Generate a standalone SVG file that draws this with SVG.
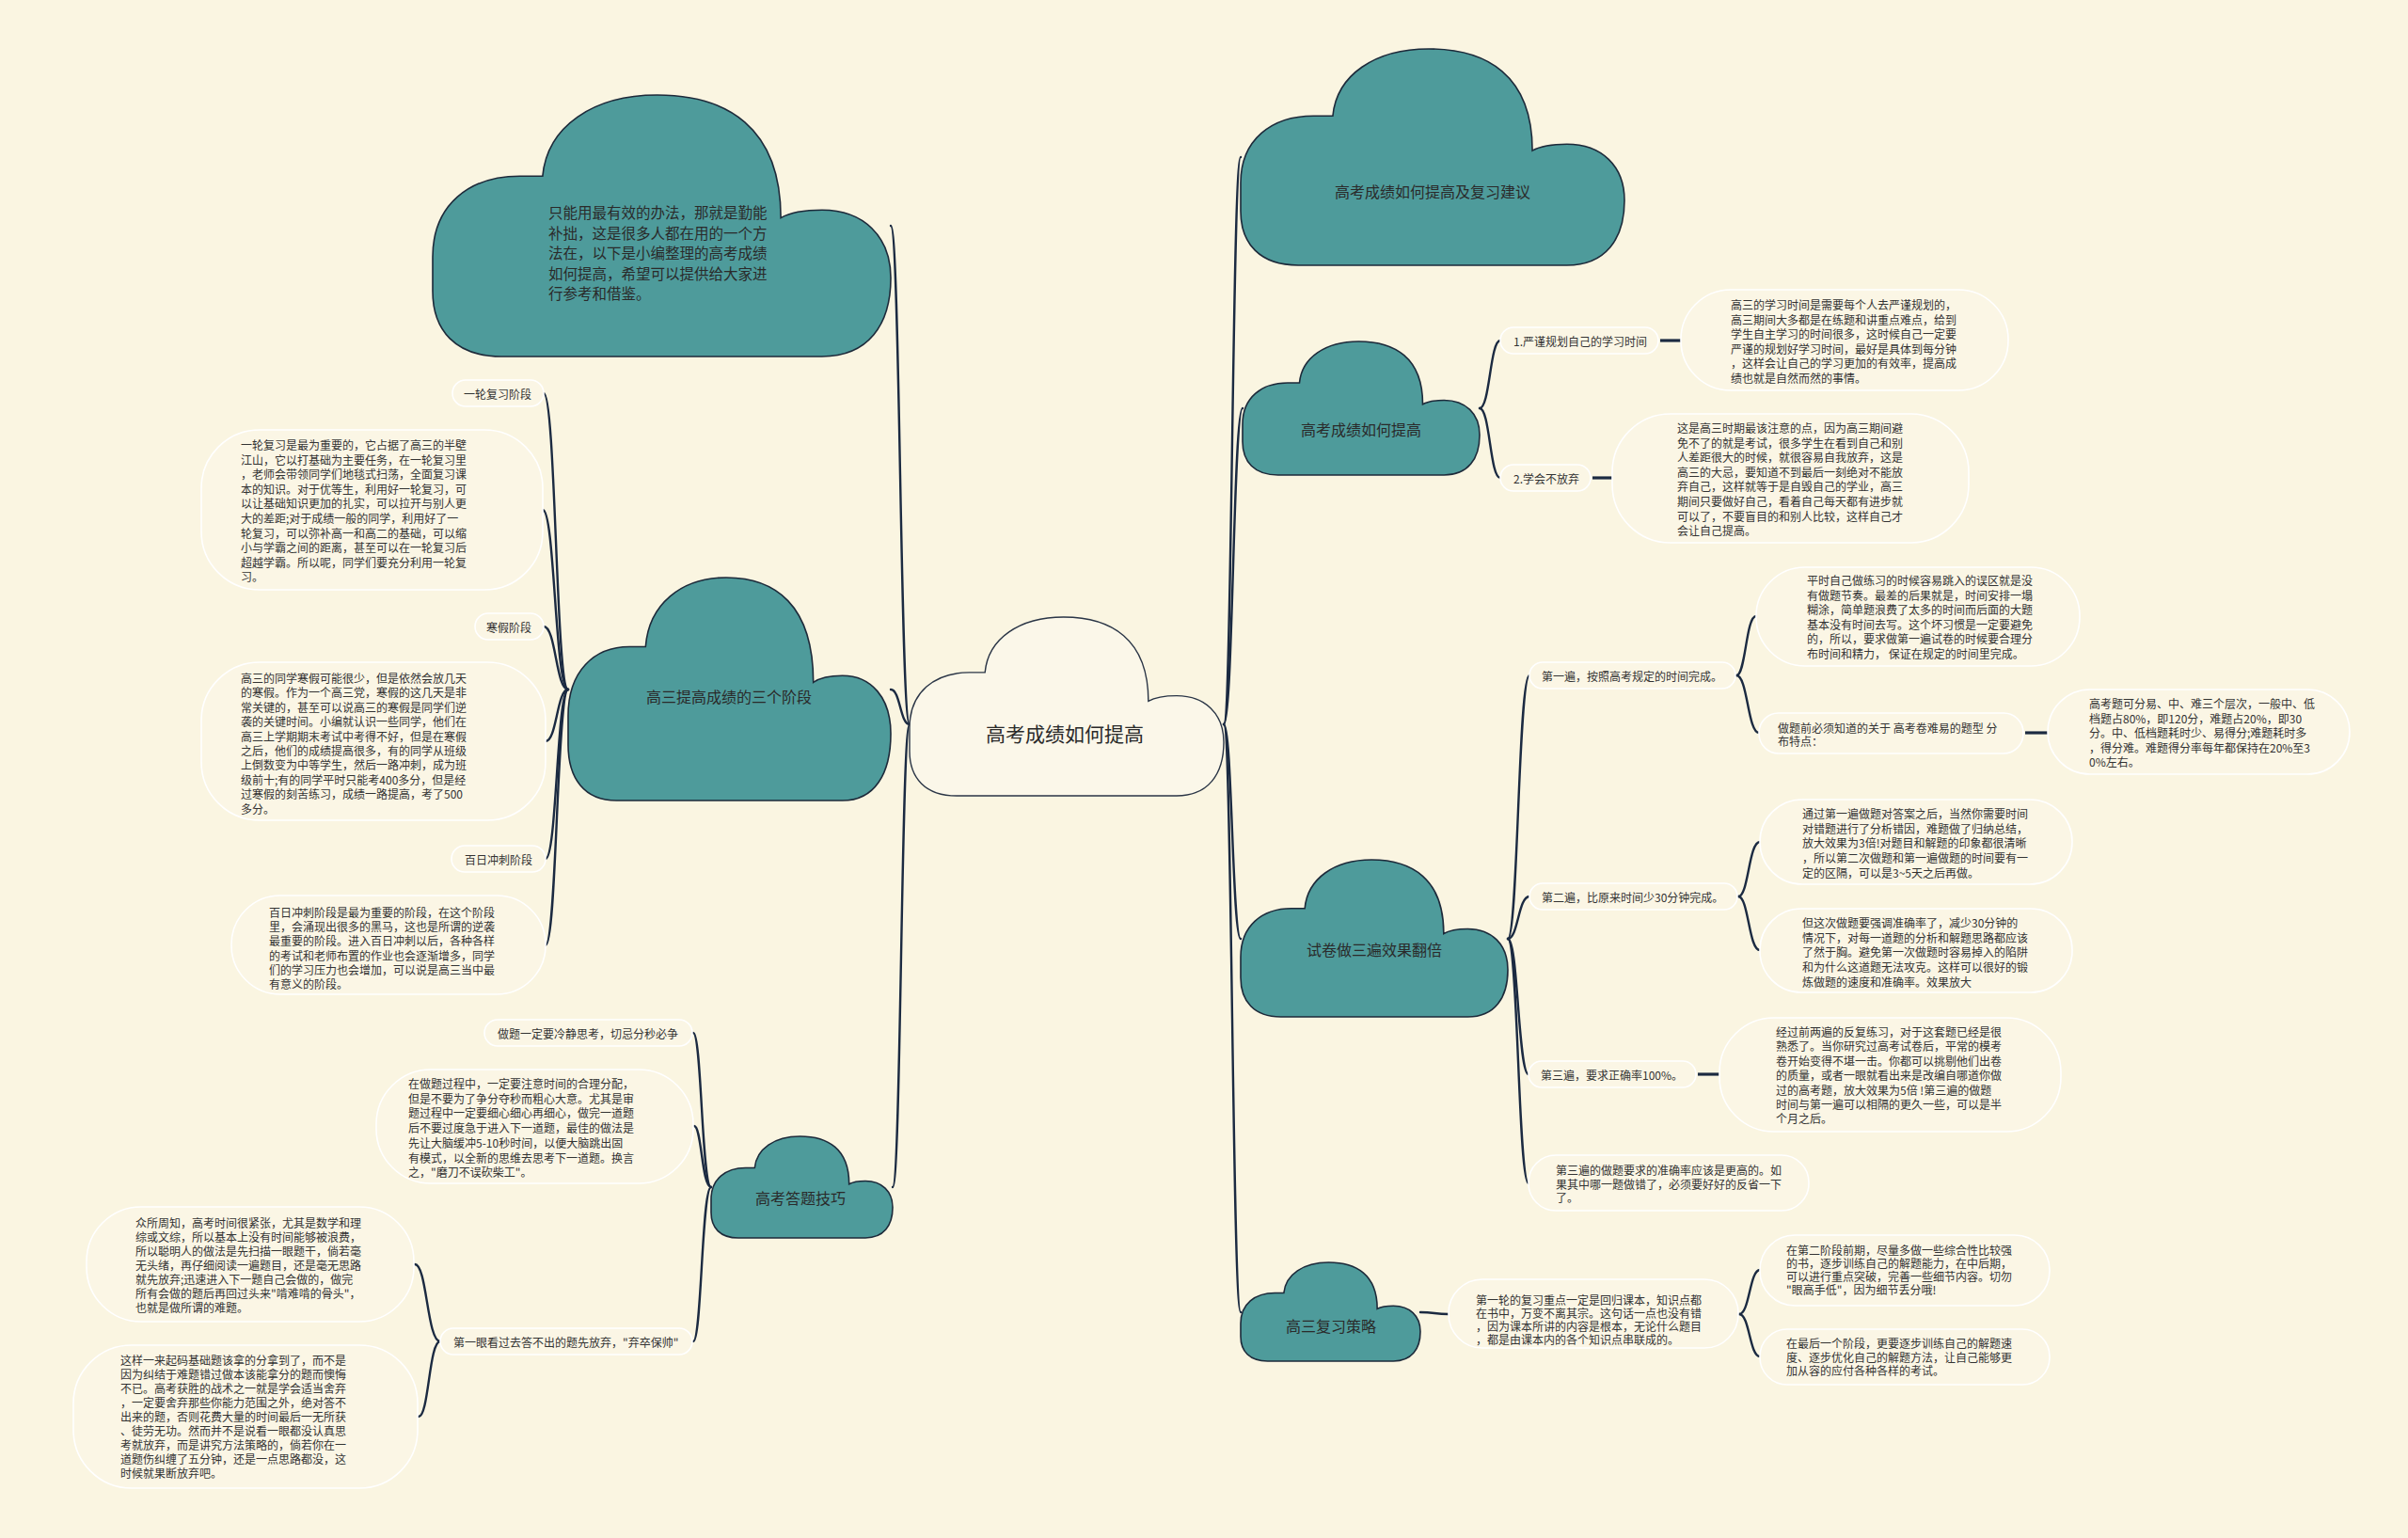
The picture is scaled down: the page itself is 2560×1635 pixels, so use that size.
<svg xmlns="http://www.w3.org/2000/svg" xmlns:xlink="http://www.w3.org/1999/xlink" width="2560" height="1635" viewBox="0 0 2560 1635">
<style>
.bg{fill:#faf5e1}
.cloud{fill:#4e9b9b;stroke:#1d2a3a;stroke-width:1.6}
.ccloud{fill:#fbf7e9;stroke:#2a3546;stroke-width:1.4}
.pill{fill:#fbf6e5;stroke:#ffffff;stroke-width:1.6}
.link{fill:none;stroke:#1b2a41;stroke-width:2.4;stroke-linecap:round}
.dash{fill:none;stroke:#1b2a41;stroke-width:3.2}
text{font-family:"Noto Sans CJK SC","Noto Sans CJK JP",sans-serif;fill:#333333;dominant-baseline:central}
.t12{font-size:12px}
.t16{font-size:16px;text-anchor:middle;fill:#2a2a2a}
.t15{font-size:15.5px;fill:#2a2a2a}
.t21{font-size:21px;text-anchor:middle;fill:#2a2a2a}
</style>
<defs>
<path id="cloudShape" vector-effect="non-scaling-stroke" d="M15,100 C5,100 0,90 0,75 L0,62 C0,42 8,31 19,31 L24,31 C25,12 35,0 49,0 C64,0 76,12 76,47 C78,45 81,44 85,44 C94,44 100,54 100,70 C100,88 95,100 85,100 Z"/>
</defs>
<rect class="bg" x="0" y="0" width="2560" height="1635"/>

<g id="connectors">
<path class="link" d="M967,770 C957,770 957,240 947,240"/>
<path class="link" d="M967,770 C957,770 957,733 947,733"/>
<path class="link" d="M967,770 C958,770 958,1262 949,1262"/>
<path class="link" d="M1301,770 C1310,770 1310,167 1319,167"/>
<path class="link" d="M1301,770 C1311,770 1311,434 1321,434"/>
<path class="link" d="M1301,770 C1310,770 1310,998 1319,998"/>
<path class="link" d="M1301,770 C1310,770 1310,1395 1319,1395"/>
<path class="link" d="M604,733 C591,733 591,418 578,418"/>
<path class="link" d="M604,733 C590,733 590,542 577,542"/>
<path class="link" d="M604,733 C591,733 591,666 578,666"/>
<path class="link" d="M604,733 C592,733 592,788 580,788"/>
<path class="link" d="M604,733 C592,733 592,913 580,913"/>
<path class="link" d="M604,733 C592,733 592,1005 580,1005"/>
<path class="link" d="M1573,434 C1584,434 1584,362 1595,362"/>
<path class="link" d="M1573,434 C1584,434 1584,508 1595,508"/>
<path class="dash" d="M1765,362 L1787,362"/>
<path class="dash" d="M1693,508 L1714,508"/>
<path class="link" d="M1603,998 C1614,998 1614,718 1626,718"/>
<path class="link" d="M1603,998 C1614,998 1614,953 1626,953"/>
<path class="link" d="M1603,998 C1614,998 1614,1142 1625,1142"/>
<path class="link" d="M1603,998 C1614,998 1614,1258 1625,1258"/>
<path class="link" d="M1846,718 C1856,718 1856,655 1867,655"/>
<path class="link" d="M1846,718 C1858,718 1858,779 1870,779"/>
<path class="dash" d="M2153,779 L2177,779"/>
<path class="link" d="M1848,953 C1859,953 1859,895 1871,895"/>
<path class="link" d="M1848,953 C1859,953 1859,1010 1871,1010"/>
<path class="dash" d="M1805,1142 L1828,1142"/>
<path class="link" d="M1510,1395 C1525,1395 1525,1397 1540,1397"/>
<path class="link" d="M1849,1397 C1860,1397 1860,1350 1871,1350"/>
<path class="link" d="M1849,1397 C1860,1397 1860,1442 1871,1442"/>
<path class="link" d="M756,1262 C746,1262 746,1098 737,1098"/>
<path class="link" d="M756,1262 C746,1262 746,1197 738,1197"/>
<path class="link" d="M756,1262 C746,1262 746,1426 737,1426"/>
<path class="link" d="M468,1426 C454,1426 454,1344 441,1344"/>
<path class="link" d="M468,1426 C456,1426 456,1506 445,1506"/>
</g>

<g id="node-center">
<use xlink:href="#cloudShape" href="#cloudShape" class="ccloud" transform="translate(967,656) scale(3.34,1.90)"/>
<text class="t21" x="1132" y="779">高考成绩如何提高</text>
</g>

<g id="node-intro">
<use xlink:href="#cloudShape" href="#cloudShape" class="cloud" transform="translate(460,101) scale(4.87,2.78)"/>
<text class="t15"><tspan x="583" y="225">只能用最有效的办法，那就是勤能</tspan><tspan x="583" y="246.5">补拙，这是很多人都在用的一个方</tspan><tspan x="583" y="268">法在，以下是小编整理的高考成绩</tspan><tspan x="583" y="289.5">如何提高，希望可以提供给大家进</tspan><tspan x="583" y="311">行参考和借鉴。</tspan></text>
</g>

<g id="node-advice">
<use xlink:href="#cloudShape" href="#cloudShape" class="cloud" transform="translate(1319,52) scale(4.08,2.30)"/>
<text class="t16" x="1523" y="203">高考成绩如何提高及复习建议</text>
</g>

<g id="node-improve">
<use xlink:href="#cloudShape" href="#cloudShape" class="cloud" transform="translate(1321,363) scale(2.52,1.42)"/>
<text class="t16" x="1447" y="456">高考成绩如何提高</text>
</g>

<g id="node-plan-label">
<rect class="pill" x="1595" y="348" width="168" height="28" rx="14"/>
<text class="t12" x="1609" y="362">1.严谨规划自己的学习时间</text>
</g>
<g id="node-plan-text">
<rect class="pill" x="1787" y="308" width="348" height="107" rx="53"/>
<text class="t12"><tspan x="1840" y="323">高三的学习时间是需要每个人去严谨规划的，</tspan><tspan x="1840" y="338.5">高三期间大多都是在练题和讲重点难点，给到</tspan><tspan x="1840" y="354">学生自主学习的时间很多，这时候自己一定要</tspan><tspan x="1840" y="369.5">严谨的规划好学习时间，最好是具体到每分钟</tspan><tspan x="1840" y="385">，这样会让自己的学习更加的有效率，提高成</tspan><tspan x="1840" y="400.5">绩也就是自然而然的事情。</tspan></text>
</g>
<g id="node-giveup-label">
<rect class="pill" x="1595" y="494" width="96" height="28" rx="14"/>
<text class="t12" x="1609" y="508">2.学会不放弃</text>
</g>
<g id="node-giveup-text">
<rect class="pill" x="1714" y="440" width="379" height="137" rx="62"/>
<text class="t12"><tspan x="1783" y="454">这是高三时期最该注意的点，因为高三期间避</tspan><tspan x="1783" y="469.6">免不了的就是考试，很多学生在看到自己和别</tspan><tspan x="1783" y="485.2">人差距很大的时候，就很容易自我放弃，这是</tspan><tspan x="1783" y="500.8">高三的大忌，要知道不到最后一刻绝对不能放</tspan><tspan x="1783" y="516.4">弃自己，这样就等于是自毁自己的学业，高三</tspan><tspan x="1783" y="532">期间只要做好自己，看着自己每天都有进步就</tspan><tspan x="1783" y="547.6">可以了，不要盲目的和别人比较，这样自己才</tspan><tspan x="1783" y="563.2">会让自己提高。</tspan></text>
</g>

<g id="node-three">
<use xlink:href="#cloudShape" href="#cloudShape" class="cloud" transform="translate(604,614) scale(3.43,2.37)"/>
<text class="t16" x="775" y="740">高三提高成绩的三个阶段</text>
</g>

<g id="node-round1-label">
<rect class="pill" x="481" y="404" width="97" height="28" rx="14"/>
<text class="t12" x="493" y="418">一轮复习阶段</text>
</g>
<g id="node-round1-text">
<rect class="pill" x="214" y="457" width="363" height="170" rx="62"/>
<text class="t12"><tspan x="256" y="472">一轮复习是最为重要的，它占据了高三的半壁</tspan><tspan x="256" y="487.6">江山，它以打基础为主要任务，在一轮复习里</tspan><tspan x="256" y="503.2">，老师会带领同学们地毯式扫荡，全面复习课</tspan><tspan x="256" y="518.8">本的知识。对于优等生，利用好一轮复习，可</tspan><tspan x="256" y="534.4">以让基础知识更加的扎实，可以拉开与别人更</tspan><tspan x="256" y="550">大的差距;对于成绩一般的同学，利用好了一</tspan><tspan x="256" y="565.6">轮复习，可以弥补高一和高二的基础，可以缩</tspan><tspan x="256" y="581.2">小与学霸之间的距离，甚至可以在一轮复习后</tspan><tspan x="256" y="596.8">超越学霸。所以呢，同学们要充分利用一轮复</tspan><tspan x="256" y="612.4">习。</tspan></text>
</g>
<g id="node-winter-label">
<rect class="pill" x="505" y="652" width="73" height="28" rx="14"/>
<text class="t12" x="517" y="666">寒假阶段</text>
</g>
<g id="node-winter-text">
<rect class="pill" x="214" y="704" width="366" height="168" rx="62"/>
<text class="t12"><tspan x="256" y="720">高三的同学寒假可能很少，但是依然会放几天</tspan><tspan x="256" y="735.4">的寒假。作为一个高三党，寒假的这几天是非</tspan><tspan x="256" y="750.8">常关键的，甚至可以说高三的寒假是同学们逆</tspan><tspan x="256" y="766.2">袭的关键时间。小编就认识一些同学，他们在</tspan><tspan x="256" y="781.6">高三上学期期末考试中考得不好，但是在寒假</tspan><tspan x="256" y="797">之后，他们的成绩提高很多，有的同学从班级</tspan><tspan x="256" y="812.4">上倒数变为中等学生，然后一路冲刺，成为班</tspan><tspan x="256" y="827.8">级前十;有的同学平时只能考400多分，但是经</tspan><tspan x="256" y="843.2">过寒假的刻苦练习，成绩一路提高，考了500</tspan><tspan x="256" y="858.6">多分。</tspan></text>
</g>
<g id="node-sprint-label">
<rect class="pill" x="480" y="899" width="100" height="28" rx="14"/>
<text class="t12" x="494" y="913">百日冲刺阶段</text>
</g>
<g id="node-sprint-text">
<rect class="pill" x="246" y="952" width="334" height="105" rx="52"/>
<text class="t12"><tspan x="286" y="969">百日冲刺阶段是最为重要的阶段，在这个阶段</tspan><tspan x="286" y="984.2">里，会涌现出很多的黑马，这也是所谓的逆袭</tspan><tspan x="286" y="999.4">最重要的阶段。进入百日冲刺以后，各种各样</tspan><tspan x="286" y="1014.6">的考试和老师布置的作业也会逐渐增多，同学</tspan><tspan x="286" y="1029.8">们的学习压力也会增加，可以说是高三当中最</tspan><tspan x="286" y="1045">有意义的阶段。</tspan></text>
</g>

<g id="node-paper">
<use xlink:href="#cloudShape" href="#cloudShape" class="cloud" transform="translate(1319,914) scale(2.84,1.67)"/>
<text class="t16" x="1461" y="1009">试卷做三遍效果翻倍</text>
</g>
<g id="node-first-label">
<rect class="pill" x="1626" y="704" width="219" height="28" rx="14"/>
<text class="t12" x="1639" y="718">第一遍，按照高考规定的时间完成。</text>
</g>
<g id="node-first-text">
<rect class="pill" x="1867" y="603" width="344" height="105" rx="52"/>
<text class="t12"><tspan x="1921" y="616">平时自己做练习的时候容易跳入的误区就是没</tspan><tspan x="1921" y="631.6">有做题节奏。最差的后果就是，时间安排一塌</tspan><tspan x="1921" y="647.2">糊涂，简单题浪费了太多的时间而后面的大题</tspan><tspan x="1921" y="662.8">基本没有时间去写。这个坏习惯是一定要避免</tspan><tspan x="1921" y="678.4">的，所以，要求做第一遍试卷的时候要合理分</tspan><tspan x="1921" y="694">布时间和精力， 保证在规定的时间里完成。</tspan></text>
</g>
<g id="node-know-label">
<rect class="pill" x="1870" y="758" width="281" height="43" rx="21"/>
<text class="t12"><tspan x="1890" y="772.5">做题前必须知道的关于 高考卷难易的题型 分</tspan><tspan x="1890" y="787">布特点：</tspan></text>
</g>
<g id="node-know-text">
<rect class="pill" x="2177" y="733" width="321" height="90" rx="45"/>
<text class="t12"><tspan x="2221" y="747">高考题可分易、中、难三个层次，一般中、低</tspan><tspan x="2221" y="762.5">档题占80%，即120分，难题占20%，即30</tspan><tspan x="2221" y="778">分。中、低档题耗时少、易得分;难题耗时多</tspan><tspan x="2221" y="793.5">，得分难。难题得分率每年都保持在20%至3</tspan><tspan x="2221" y="809">0%左右。</tspan></text>
</g>
<g id="node-second-label">
<rect class="pill" x="1626" y="939" width="221" height="28" rx="14"/>
<text class="t12" x="1639" y="953">第二遍，比原来时间少30分钟完成。</text>
</g>
<g id="node-second-text1">
<rect class="pill" x="1871" y="850" width="332" height="90" rx="45"/>
<text class="t12"><tspan x="1916" y="864">通过第一遍做题对答案之后，当然你需要时间</tspan><tspan x="1916" y="879.7">对错题进行了分析错因，难题做了归纳总结，</tspan><tspan x="1916" y="895.4">放大效果为3倍!对题目和解题的印象都很清晰</tspan><tspan x="1916" y="911.1">，所以第二次做题和第一遍做题的时间要有一</tspan><tspan x="1916" y="926.8">定的区隔，可以是3~5天之后再做。</tspan></text>
</g>
<g id="node-second-text2">
<rect class="pill" x="1871" y="966" width="332" height="89" rx="44"/>
<text class="t12"><tspan x="1916" y="980">但这次做题要强调准确率了，减少30分钟的</tspan><tspan x="1916" y="995.7">情况下，对每一道题的分析和解题思路都应该</tspan><tspan x="1916" y="1011.4">了然于胸。避免第一次做题时容易掉入的陷阱</tspan><tspan x="1916" y="1027.1">和为什么这道题无法攻克。这样可以很好的锻</tspan><tspan x="1916" y="1042.8">炼做题的速度和准确率。效果放大</tspan></text>
</g>
<g id="node-third-label">
<rect class="pill" x="1625" y="1128" width="178" height="28" rx="14"/>
<text class="t12" x="1638" y="1142">第三遍，要求正确率100%。</text>
</g>
<g id="node-third-text">
<rect class="pill" x="1828" y="1082" width="363" height="121" rx="58"/>
<text class="t12"><tspan x="1888" y="1096">经过前两遍的反复练习，对于这套题已经是很</tspan><tspan x="1888" y="1111.4">熟悉了。当你研究过高考试卷后，平常的模考</tspan><tspan x="1888" y="1126.8">卷开始变得不堪一击。你都可以挑剔他们出卷</tspan><tspan x="1888" y="1142.2">的质量，或者一眼就看出来是改编自哪道你做</tspan><tspan x="1888" y="1157.6">过的高考题，放大效果为5倍 !第三遍的做题</tspan><tspan x="1888" y="1173">时间与第一遍可以相隔的更久一些，可以是半</tspan><tspan x="1888" y="1188.4">个月之后。</tspan></text>
</g>
<g id="node-third-note">
<rect class="pill" x="1625" y="1228" width="298" height="59" rx="29"/>
<text class="t12"><tspan x="1654" y="1243">第三遍的做题要求的准确率应该是更高的。如</tspan><tspan x="1654" y="1257.5">果其中哪一题做错了，必须要好好的反省一下</tspan><tspan x="1654" y="1272">了。</tspan></text>
</g>

<g id="node-strategy">
<use xlink:href="#cloudShape" href="#cloudShape" class="cloud" transform="translate(1319,1342) scale(1.91,1.05)"/>
<text class="t16" x="1415" y="1409">高三复习策略</text>
</g>
<g id="node-strategy-text">
<rect class="pill" x="1540" y="1360" width="308" height="73" rx="36"/>
<text class="t12"><tspan x="1569" y="1381">第一轮的复习重点一定是回归课本，知识点都</tspan><tspan x="1569" y="1395">在书中，万变不离其宗。这句话一点也没有错</tspan><tspan x="1569" y="1409">，因为课本所讲的内容是根本，无论什么题目</tspan><tspan x="1569" y="1423">，都是由课本内的各个知识点串联成的。</tspan></text>
</g>
<g id="node-strategy-a">
<rect class="pill" x="1871" y="1313" width="308" height="75" rx="37"/>
<text class="t12"><tspan x="1899" y="1328">在第二阶段前期，尽量多做一些综合性比较强</tspan><tspan x="1899" y="1342">的书，逐步训练自己的解题能力，在中后期，</tspan><tspan x="1899" y="1356">可以进行重点突破，完善一些细节内容。切勿</tspan><tspan x="1899" y="1370">"眼高手低"，因为细节丢分哦!</tspan></text>
</g>
<g id="node-strategy-b">
<rect class="pill" x="1871" y="1413" width="308" height="59" rx="29"/>
<text class="t12"><tspan x="1899" y="1427">在最后一个阶段，更要逐步训练自己的解题速</tspan><tspan x="1899" y="1441.5">度、逐步优化自己的解题方法，让自己能够更</tspan><tspan x="1899" y="1456">加从容的应付各种各样的考试。</tspan></text>
</g>

<g id="node-skills">
<use xlink:href="#cloudShape" href="#cloudShape" class="cloud" transform="translate(756,1208) scale(1.93,1.08)"/>
<text class="t16" x="851" y="1273">高考答题技巧</text>
</g>
<g id="node-calm-label">
<rect class="pill" x="515" y="1084" width="221" height="28" rx="14"/>
<text class="t12" x="529" y="1098">做题一定要冷静思考，切忌分秒必争</text>
</g>
<g id="node-calm-text">
<rect class="pill" x="400" y="1137" width="337" height="121" rx="58"/>
<text class="t12"><tspan x="434" y="1151">在做题过程中，一定要注意时间的合理分配，</tspan><tspan x="434" y="1166.7">但是不要为了争分夺秒而粗心大意。尤其是审</tspan><tspan x="434" y="1182.4">题过程中一定要细心细心再细心，做完一道题</tspan><tspan x="434" y="1198.1">后不要过度急于进入下一道题，最佳的做法是</tspan><tspan x="434" y="1213.8">先让大脑缓冲5-10秒时间，以便大脑跳出固</tspan><tspan x="434" y="1229.5">有模式，以全新的思维去思考下一道题。换言</tspan><tspan x="434" y="1245.2">之，"磨刀不误砍柴工"。</tspan></text>
</g>
<g id="node-skip-label">
<rect class="pill" x="468" y="1412" width="268" height="28" rx="14"/>
<text class="t12" x="482" y="1426">第一眼看过去答不出的题先放弃，"弃卒保帅"</text>
</g>
<g id="node-skip-text1">
<rect class="pill" x="92" y="1283" width="348" height="122" rx="58"/>
<text class="t12"><tspan x="144" y="1299">众所周知，高考时间很紧张，尤其是数学和理</tspan><tspan x="144" y="1314">综或文综，所以基本上没有时间能够被浪费，</tspan><tspan x="144" y="1329">所以聪明人的做法是先扫描一眼题干，倘若毫</tspan><tspan x="144" y="1344">无头绪，再仔细阅读一遍题目，还是毫无思路</tspan><tspan x="144" y="1359">就先放弃;迅速进入下一题自己会做的，做完</tspan><tspan x="144" y="1374">所有会做的题后再回过头来"啃难啃的骨头"，</tspan><tspan x="144" y="1389">也就是做所谓的难题。</tspan></text>
</g>
<g id="node-skip-text2">
<rect class="pill" x="78" y="1430" width="366" height="152" rx="62"/>
<text class="t12"><tspan x="128" y="1445">这样一来起码基础题该拿的分拿到了，而不是</tspan><tspan x="128" y="1460">因为纠结于难题错过做本该能拿分的题而懊悔</tspan><tspan x="128" y="1475">不已。高考获胜的战术之一就是学会适当舍弃</tspan><tspan x="128" y="1490">，一定要舍弃那些你能力范围之外，绝对答不</tspan><tspan x="128" y="1505">出来的题，否则花费大量的时间最后一无所获</tspan><tspan x="128" y="1520">、徒劳无功。然而并不是说看一眼都没认真思</tspan><tspan x="128" y="1535">考就放弃，而是讲究方法策略的，倘若你在一</tspan><tspan x="128" y="1550">道题伤纠缠了五分钟，还是一点思路都没，这</tspan><tspan x="128" y="1565">时候就果断放弃吧。</tspan></text>
</g>
</svg>
